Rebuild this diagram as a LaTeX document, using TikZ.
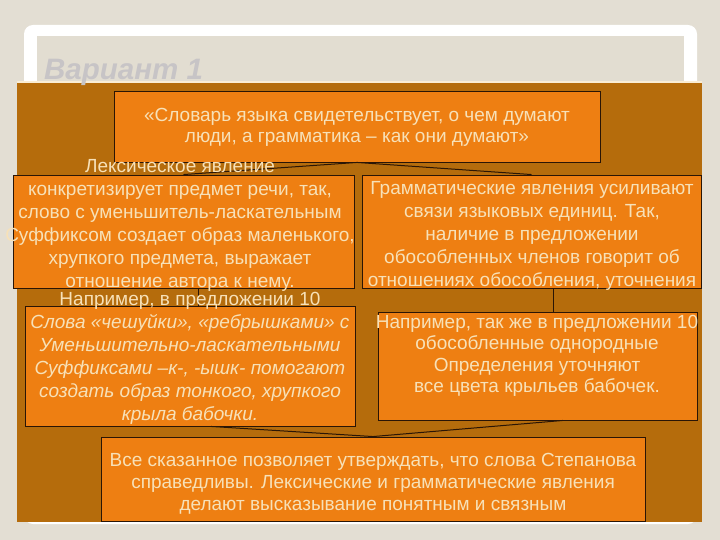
\documentclass[tikz,border=0pt]{standalone}
\usepackage{fontspec}
\setmainfont{Liberation Sans}
\usetikzlibrary{calc}
\definecolor{bgc}{HTML}{E3DED3}
\definecolor{innerc}{HTML}{E2DDD1}
\definecolor{brownc}{HTML}{B56C0C}
\definecolor{orangec}{HTML}{EE7F12}
\definecolor{textc}{HTML}{F7E1B8}
\definecolor{titlec}{HTML}{C7C4C6}
\definecolor{edgec}{HTML}{2A1505}
\tikzset{
  box/.style={draw=edgec, line width=0.9pt, fill=orangec, inner sep=0pt},
  txt/.style={text=textc, align=center, font=\fontsize{19}{23}\selectfont, inner sep=0pt},
  conn/.style={draw=edgec, line width=1pt}
}
\begin{document}
\begin{tikzpicture}[x=1pt,y=-1pt]
\useasboundingbox (0,0) rectangle (720,540);
\fill[bgc] (0,0) rectangle (720,540);
\fill[white, rounded corners=9pt] (24,25) rectangle (697,524);
\fill[innerc] (37,36) rectangle (684,90);
\fill[textc!60!white] (17,81) rectangle (702,84);
\fill[brownc] (17,83) rectangle (702,522);
\node[anchor=base west, text=titlec, font=\fontsize{29.5}{32}\selectfont\bfseries\itshape, inner sep=0pt] (title) at (44,80) {Вариант 1};

% boxes
\node[box, minimum width=486pt, minimum height=71pt] (top) at (357,126.5) {};
\node[box, minimum width=341pt, minimum height=113pt] (lft) at (183.5,231.5) {};
\node[box, minimum width=339pt, minimum height=113pt] (rgt) at (531.5,231.5) {};
\node[box, minimum width=330pt, minimum height=120pt] (lb) at (190,366) {};
\node[box, minimum width=319pt, minimum height=108pt] (rb) at (537.5,366) {};
\node[box, minimum width=544pt, minimum height=84pt] (bot) at (373,479) {};

\coordinate (c1) at (198,0);
\coordinate (c2) at (553,0);
\coordinate (c3) at (211,0);
\coordinate (c4) at (563,0);

% connectors
\draw[conn] (top.south) -- (lft.north);
\draw[conn] (top.south) -- (rgt.north);
\draw[conn] (lft.south -| c1) -- (lb.north -| c1);
\draw[conn] (rgt.south -| c2) -- (rb.north -| c2);
\draw[conn] (lb.south -| c3) -- (bot.north);
\draw[conn] (rb.south -| c4) -- (bot.north);

% texts
\node[txt, font=\fontsize{19}{21}\selectfont] (ttop) at (357,127) {«Словарь языка свидетельствует, о чем думают\\люди, а грамматика – как они думают»};
\node[txt] (tlft) at (180,225) {Лексическое явление\\конкретизирует предмет речи, так,\\слово с уменьшитель-ласкательным\\Суффиксом создает образ маленького,\\хрупкого предмета, выражает\\отношение автора к нему.};
\node[txt] (trgt) at (532,236) {Грамматические явления усиливают\\связи языковых единиц. Так,\\наличие в предложении\\обособленных членов говорит об\\отношениях обособления, уточнения};
\node[txt] (tlb) at (190,358) {Например, в предложении 10\\\itshape Слова «чешуйки», «ребрышками» с\\\itshape Уменьшительно-ласкательными\\\itshape Суффиксами –к-, -ышк- помогают\\\itshape создать образ тонкого, хрупкого\\\itshape крыла бабочки.};
\node[txt, font=\fontsize{19}{21.5}\selectfont] (trb) at (537,356) {Например, так же в предложении 10\\обособленные однородные\\Определения уточняют\\все цвета крыльев бабочек.};
\node[txt, font=\fontsize{19}{22}\selectfont] (tbot) at (373,484) {Все сказанное позволяет утверждать, что слова Степанова\\справедливы. Лексические и грамматические явления\\делают высказывание понятным и связным};
\end{tikzpicture}
\end{document}
